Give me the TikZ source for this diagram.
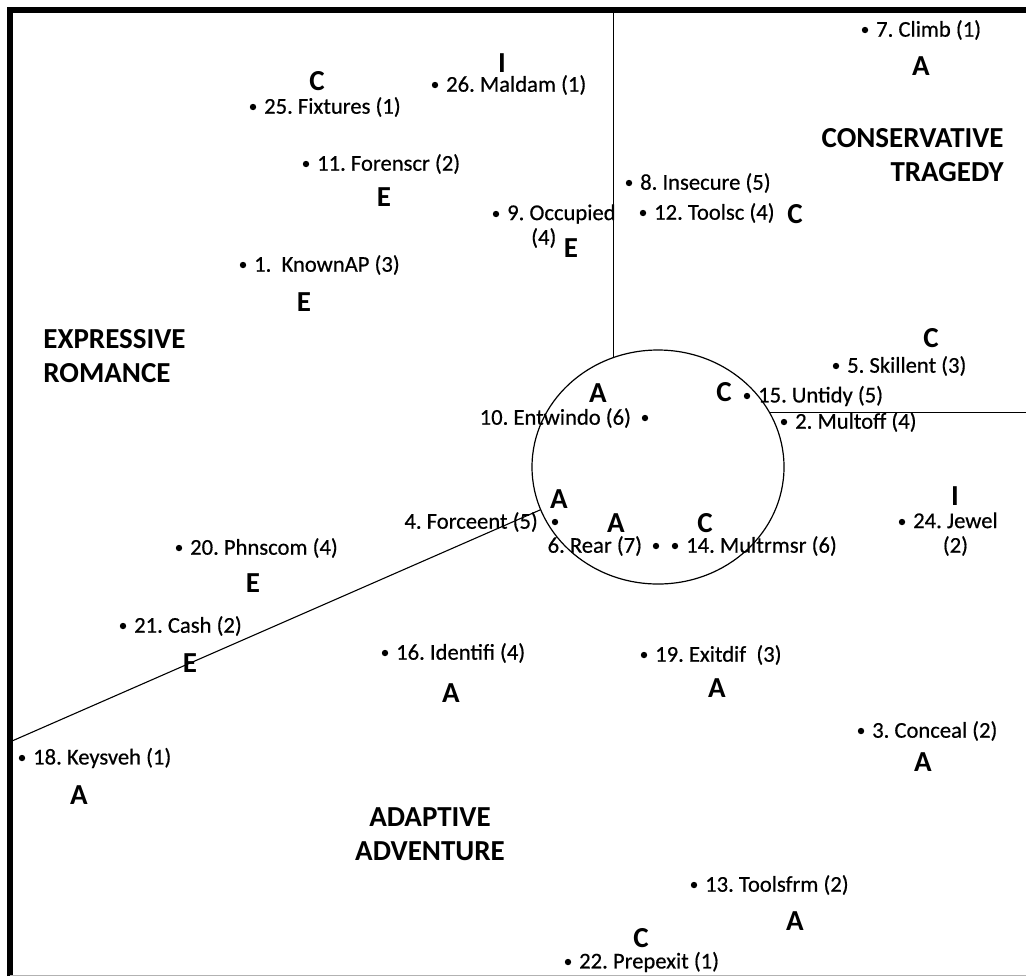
\documentclass[tikz,border=0pt]{standalone}
\usepackage{fontspec}
\setmainfont{Carlito}
\newfontfamily\labfont[RawFeature={embolden=0.5}]{Carlito}
\usetikzlibrary{positioning}
\usetikzlibrary{shapes.geometric}

\begin{document}
\frenchspacing
\begin{tikzpicture}[x=0.5pt,y=-0.5pt]
\tikzstyle{pnt}=[circle, minimum size = 3.2pt, inner sep=0pt, fill=black]
\tikzstyle{lab}=[inner sep=1pt, font=\labfont\fontsize{11.3}{12.3}\selectfont]
\tikzstyle{grp}=[inner sep=0pt, font=\fontsize{14.5}{17}\selectfont\bfseries]
\tikzstyle{head}=[inner sep=0pt, font=\fontsize{14.5}{17.3}\selectfont\bfseries]
\tikzstyle{border}=[line width=3pt]
\tikzstyle{split}=[line width=0.55pt]

\useasboundingbox (0,0) rectangle (1026,976);

% frame
\coordinate (tl) at (10,10);
\coordinate (tr) at (1026,10);
\coordinate (bl) at (10,976);
\coordinate (edge) at (12,741);
\draw[border] (bl) -- (tl) -- (tr);
\draw[gray!60, line width=0.7pt] (10,975.3) -- (1026,975.3);

% centre ring and borders
\node[draw, ellipse, minimum width=126pt, minimum height=117pt, inner sep=0pt, line width=0.6pt] (ring) at (658,467) {};
\draw[split] (ring.112) -- (ring.112 |- tl);
\draw[split] (ring.26.5) -- (ring.26.5 -| tr);
\draw[split] (ring.200) -- (edge);

% regions
\node[head, align=left, anchor=west] (expr) at (43,356) {EXPRESSIVE\\ROMANCE};
\node[head, align=right, anchor=east] (cons) at (1004,155) {CONSERVATIVE\\TRAGEDY};
\node[head, align=center] (adap) at (430,834) {ADAPTIVE\\ADVENTURE};

% points
\node[pnt] (d_1) at (243,265) {};
\node[pnt] (d_2) at (784,422) {};
\node[pnt] (d_3) at (861,731) {};
\node[pnt] (d_4) at (555,522) {};
\node[pnt] (d_5) at (836,366) {};
\node[pnt] (d_6) at (656,546) {};
\node[pnt] (d_7) at (865,30) {};
\node[pnt] (d_8) at (629,183) {};
\node[pnt] (d_9) at (496,214) {};
\node[pnt] (d_10) at (645,418) {};
\node[pnt] (d_11) at (306,164) {};
\node[pnt] (d_12) at (643,213) {};
\node[pnt] (d_13) at (694,885) {};
\node[pnt] (d_14) at (675,546) {};
\node[pnt] (d_15) at (747,396) {};
\node[pnt] (d_16) at (385,653) {};
\node[pnt] (d_18) at (22,758) {};
\node[pnt] (d_19) at (644,655) {};
\node[pnt] (d_20) at (179,548) {};
\node[pnt] (d_21) at (123,626) {};
\node[pnt] (d_22) at (568,962) {};
\node[pnt] (d_24) at (902,522) {};
\node[pnt] (d_25) at (253,107) {};
\node[pnt] (d_26) at (435,85) {};

% point labels
\node[lab] (l_1) [right=2.6pt of d_1] {1.~~KnownAP (3)};
\node[lab] (l_2) [right=2.6pt of d_2] {2. Multoff (4)};
\node[lab] (l_3) [right=2.6pt of d_3] {3. Conceal (2)};
\node[lab] (l_4) [left=5.6pt of d_4] {4. Forceent (5)};
\node[lab] (l_5) [right=2.6pt of d_5] {5. Skillent (3)};
\node[lab] (l_6) [left=4pt of d_6] {6. Rear (7)};
\node[lab] (l_7) [right=2.6pt of d_7] {7. Climb (1)};
\node[lab] (l_8) [right=2.6pt of d_8] {8. Insecure (5)};
\node[lab, align=left, anchor=north west] (l_9) at ([xshift=2.6pt, yshift=6pt]d_9.east) {9. Occupied\\\hspace*{12pt}(4)};
\node[lab] (l_10) [left=4pt of d_10] {10. Entwindo (6)};
\node[lab] (l_11) [right=2.6pt of d_11] {11. Forenscr (2)};
\node[lab] (l_12) [right=2.6pt of d_12] {12. Toolsc (4)};
\node[lab] (l_13) [right=2.6pt of d_13] {13. Toolsfrm (2)};
\node[lab] (l_14) [right=2.6pt of d_14] {14. Multrmsr (6)};
\node[lab] (l_15) [right=2.6pt of d_15] {15. Untidy (5)};
\node[lab] (l_16) [right=2.6pt of d_16] {16. Identifi (4)};
\node[lab] (l_18) [right=2.6pt of d_18] {18. Keysveh (1)};
\node[lab] (l_19) [right=2.6pt of d_19] {19. Exitdif~~(3)};
\node[lab] (l_20) [right=2.6pt of d_20] {20. Phnscom (4)};
\node[lab] (l_21) [right=2.6pt of d_21] {21. Cash (2)};
\node[lab] (l_22) [right=2.6pt of d_22] {22. Prepexit (1)};
\node[lab, align=center, anchor=north west] (l_24) at ([xshift=2.6pt, yshift=6pt]d_24.east) {24. Jewel\\(2)};
\node[lab] (l_25) [right=2.6pt of d_25] {25. Fixtures (1)};
\node[lab] (l_26) [right=2.6pt of d_26] {26. Maldam (1)};

% group letters
\node[grp] (g_1) at (304,302) {E};
\node[grp] (g_3) at (923,762) {A};
\node[grp] (g_4) at (559,499) {A};
\node[grp] (g_5) at (931,338) {C};
\node[grp] (g_6) at (616,523) {A};
\node[grp] (g_7) at (921,66) {A};
\node[grp] (g_9) at (571,248) {E};
\node[grp] (g_10) at (598,393) {A};
\node[grp] (g_11) at (384,197) {E};
\node[grp] (g_12) at (795,214) {C};
\node[grp] (g_13) at (795,921) {A};
\node[grp] (g_14) at (705,523) {C};
\node[grp] (g_15) at (724,392) {C};
\node[grp] (g_16) at (451,693) {A};
\node[grp] (g_18) at (79,795) {A};
\node[grp] (g_19) at (717,688) {A};
\node[grp] (g_20) at (253,583) {E};
\node[grp] (g_21) at (190,663) {E};
\node[grp] (g_22) at (641,938) {C};
\node[grp] (g_24) at (955,496) {I};
\node[grp] (g_25) at (317,81) {C};
\node[grp] (g_26) at (502,63) {I};

\end{tikzpicture}
\end{document}
